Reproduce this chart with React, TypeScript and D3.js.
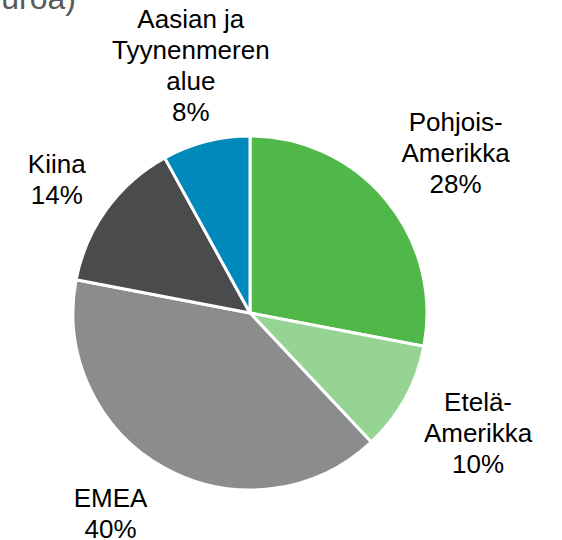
import React from "react";
import * as d3 from "d3";

const categories = ["Pohjois-Amerikka", "Etelä-Amerikka", "EMEA", "Kiina", "Aasian ja Tyynenmeren alue"];
const labelLines = [
  ["Pohjois-", "Amerikka"],
  ["Etelä-", "Amerikka"],
  ["EMEA"],
  ["Kiina"],
  ["Aasian ja", "Tyynenmeren", "alue"],
];
const values = [28, 10, 40, 14, 8];
const colors = ["#50b848", "#96d494", "#8b8c8e", "#4a4b4d", "#0089ba"];
const titleText = "Liikevaihto alueittain (milj. euroa)";

// layout (not data)
const W = 562;
const H = 540;
const CX = 250;
const CY = 313;
const R = 177;
const LABEL_R = 250;
const FS = 26;
const LINE = 31;
const nudges: [number, number][] = [
  [13, -1],
  [9, -1],
  [-19, -19],
  [9, 13],
  [3, -5],
];

export default function App() {
  const total = d3.sum(values);
  const pie = d3.pie<number>().sort(null).value((d) => d);
  const arcs = pie(values);
  const arc = d3.arc<d3.PieArcDatum<number>>().innerRadius(0).outerRadius(R);
  const labelArc = d3.arc<d3.PieArcDatum<number>>().innerRadius(LABEL_R).outerRadius(LABEL_R);

  return (
    <svg
      width={W}
      height={H}
      style={{ position: "absolute", left: 0, top: 0, display: "block" }}
      fontFamily="'Liberation Sans', Arial, sans-serif"
    >
      <rect width={W} height={H} fill="#ffffff" />
      <text x={76} y={9} fontSize={32} fill="#595959" textAnchor="end">
        {titleText}
      </text>
      <g transform={`translate(${CX},${CY})`}>
        {arcs.map((a, i) => (
          <path key={categories[i]} d={arc(a) || ""} fill={colors[i]} stroke="#ffffff" strokeWidth={3} strokeLinejoin="round" />
        ))}
        {arcs.map((a, i) => {
          const [lx, ly] = labelArc.centroid(a);
          const x = lx + nudges[i][0];
          const cy = ly + nudges[i][1];
          const lines = [...labelLines[i], `${Math.round((values[i] / total) * 100)}%`];
          const n = lines.length;
          const firstBase = cy - ((n - 1) * LINE) / 2 + 0.35 * FS;
          return (
            <text key={"l" + i} fontSize={FS} fill="#000000" textAnchor="middle">
              {lines.map((t, j) => (
                <tspan key={j} x={x} y={firstBase + j * LINE}>
                  {t}
                </tspan>
              ))}
            </text>
          );
        })}
      </g>
    </svg>
  );
}
